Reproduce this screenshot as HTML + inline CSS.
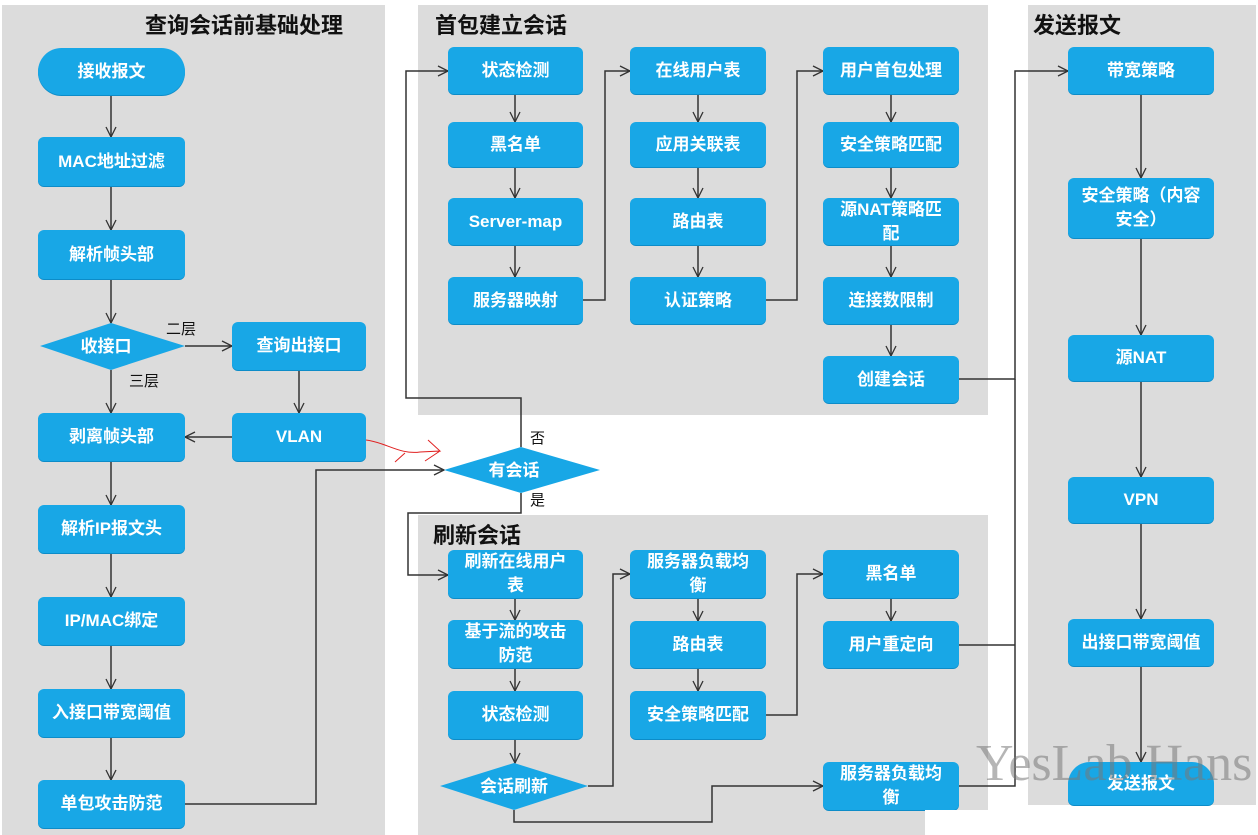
<!DOCTYPE html>
<html><head><meta charset="utf-8"><style>
body{margin:0;width:1258px;height:835px;background:#fff;position:relative;overflow:hidden;font-family:"Liberation Sans","Noto Sans CJK SC",sans-serif}
.p{position:absolute;background:#dcdcdc}
.t{position:absolute;font-size:22px;font-weight:bold;color:#111}
.b{position:absolute;background:#18a7e6;color:#fff;font-weight:bold;font-size:17px;display:flex;align-items:center;justify-content:center;text-align:center;line-height:24px;border-radius:6px;box-shadow:0 1px 0 #0d8cc8}
.l{position:absolute;font-size:15px;color:#111}
svg{position:absolute;left:0;top:0}
</style></head><body>
<div class="p" style="left:2px;top:5px;width:383px;height:830px"></div>
<div class="p" style="left:418px;top:5px;width:570px;height:410px"></div>
<div class="p" style="left:418px;top:515px;width:570px;height:320px"></div>
<div class="p" style="left:1028px;top:5px;width:228px;height:800px"></div>
<div class="t" style="left:145px;top:8px">查询会话前基础处理</div>
<div class="t" style="left:435px;top:8px">首包建立会话</div>
<div class="t" style="left:1033px;top:8px">发送报文</div>
<div class="t" style="left:433px;top:518px">刷新会话</div>

<svg width="1258" height="835">
<defs><marker id="a" markerWidth="12" markerHeight="12" refX="11" refY="6" orient="auto" markerUnits="userSpaceOnUse"><path d="M1,1 L11,6 L1,11" fill="none" stroke="#333" stroke-width="1.3"/></marker></defs>
<g fill="none" stroke="#333" stroke-width="1.5">
<path d="M111,95V137" marker-end="url(#a)"/><path d="M111,186V230" marker-end="url(#a)"/><path d="M111,279V323" marker-end="url(#a)"/>
<path d="M111,370V413" marker-end="url(#a)"/><path d="M111,461V505" marker-end="url(#a)"/><path d="M111,553V597" marker-end="url(#a)"/>
<path d="M111,645V689" marker-end="url(#a)"/><path d="M111,737V780" marker-end="url(#a)"/>
<path d="M185,346H232" marker-end="url(#a)"/><path d="M299,370V413" marker-end="url(#a)"/><path d="M232,437H185" marker-end="url(#a)"/>
<path d="M185,804H316V470H444" marker-end="url(#a)"/>
<path d="M521,447V398H406V71H448" marker-end="url(#a)"/>
<path d="M521,493V513H408V575H448" marker-end="url(#a)"/>
<path d="M515,94V122" marker-end="url(#a)"/><path d="M515,167V198" marker-end="url(#a)"/><path d="M515,245V277" marker-end="url(#a)"/>
<path d="M583,300H605V71H630" marker-end="url(#a)"/>
<path d="M698,94V122" marker-end="url(#a)"/><path d="M698,167V198" marker-end="url(#a)"/><path d="M698,245V277" marker-end="url(#a)"/>
<path d="M766,300H797V71H823" marker-end="url(#a)"/>
<path d="M891,94V122" marker-end="url(#a)"/><path d="M891,167V198" marker-end="url(#a)"/><path d="M891,245V277" marker-end="url(#a)"/><path d="M891,324V356" marker-end="url(#a)"/>
<path d="M959,379H1015V71H1068" marker-end="url(#a)"/>
<path d="M959,645H1015"/><path d="M959,786H1015V379"/>
<path d="M1141,94V178" marker-end="url(#a)"/><path d="M1141,238V335" marker-end="url(#a)"/><path d="M1141,381V477" marker-end="url(#a)"/>
<path d="M1141,523V619" marker-end="url(#a)"/><path d="M1141,666V762" marker-end="url(#a)"/>
<path d="M515,598V620" marker-end="url(#a)"/><path d="M515,668V691" marker-end="url(#a)"/><path d="M515,739V763" marker-end="url(#a)"/>
<path d="M588,786H613V574H630" marker-end="url(#a)"/>
<path d="M698,598V621" marker-end="url(#a)"/><path d="M698,668V691" marker-end="url(#a)"/>
<path d="M766,715H797V574H823" marker-end="url(#a)"/>
<path d="M891,598V621" marker-end="url(#a)"/>
<path d="M514,810V822H712V786H823" marker-end="url(#a)"/>
</g>
<path d="M366,440 C385,442 400,455 420,452 L440,451 L428,440 M440,451 L425,461 M405,453 L395,462" fill="none" stroke="#e02020" stroke-width="1"/>
<polygon points="40,346 111,323 185,346 111,370" fill="#18a7e6"/>
<polygon points="444,470 521,447 600,470 521,493" fill="#18a7e6"/>
<polygon points="440,786 514,763 588,786 514,810" fill="#18a7e6"/>
<g fill="#fff" font-weight="bold" font-size="17" text-anchor="middle" font-family="Liberation Sans,Noto Sans CJK SC,sans-serif">
<text x="106" y="352">收接口</text><text x="514" y="476">有会话</text><text x="514" y="792">会话刷新</text></g>
</svg>
<div class="l" style="left:166px;top:318px">二层</div>
<div class="l" style="left:129px;top:370px">三层</div>
<div class="l" style="left:530px;top:427px">否</div>
<div class="l" style="left:530px;top:489px">是</div>

<div class="b" style="left:38px;top:48px;width:147px;height:47px;border-radius:24px">接收报文</div>
<div class="b" style="left:38px;top:137px;width:147px;height:49px">MAC地址过滤</div>
<div class="b" style="left:38px;top:230px;width:147px;height:49px">解析帧头部</div>
<div class="b" style="left:232px;top:322px;width:134px;height:48px">查询出接口</div>
<div class="b" style="left:232px;top:413px;width:134px;height:48px">VLAN</div>
<div class="b" style="left:38px;top:413px;width:147px;height:48px">剥离帧头部</div>
<div class="b" style="left:38px;top:505px;width:147px;height:48px">解析IP报文头</div>
<div class="b" style="left:38px;top:597px;width:147px;height:48px">IP/MAC绑定</div>
<div class="b" style="left:38px;top:689px;width:147px;height:48px">入接口带宽阈值</div>
<div class="b" style="left:38px;top:780px;width:147px;height:48px">单包攻击防范</div>

<div class="b" style="left:448px;top:47px;width:135px;height:47px">状态检测</div>
<div class="b" style="left:448px;top:122px;width:135px;height:45px">黑名单</div>
<div class="b" style="left:448px;top:198px;width:135px;height:47px">Server-map</div>
<div class="b" style="left:448px;top:277px;width:135px;height:47px">服务器映射</div>
<div class="b" style="left:630px;top:47px;width:136px;height:47px">在线用户表</div>
<div class="b" style="left:630px;top:122px;width:136px;height:45px">应用关联表</div>
<div class="b" style="left:630px;top:198px;width:136px;height:47px">路由表</div>
<div class="b" style="left:630px;top:277px;width:136px;height:47px">认证策略</div>
<div class="b" style="left:823px;top:47px;width:136px;height:47px">用户首包处理</div>
<div class="b" style="left:823px;top:122px;width:136px;height:45px">安全策略匹配</div>
<div class="b" style="left:823px;top:198px;width:136px;height:47px">源NAT策略匹<br>配</div>
<div class="b" style="left:823px;top:277px;width:136px;height:47px">连接数限制</div>
<div class="b" style="left:823px;top:356px;width:136px;height:47px">创建会话</div>

<div class="b" style="left:1068px;top:47px;width:146px;height:47px">带宽策略</div>
<div class="b" style="left:1068px;top:178px;width:146px;height:60px">安全策略（内容<br>安全）</div>
<div class="b" style="left:1068px;top:335px;width:146px;height:46px">源NAT</div>
<div class="b" style="left:1068px;top:477px;width:146px;height:46px">VPN</div>
<div class="b" style="left:1068px;top:619px;width:146px;height:47px">出接口带宽阈值</div>
<div class="b" style="left:1068px;top:762px;width:146px;height:43px;border-radius:22px 22px 6px 6px">发送报文</div>

<div class="b" style="left:448px;top:550px;width:135px;height:48px">刷新在线用户<br>表</div>
<div class="b" style="left:448px;top:620px;width:135px;height:48px">基于流的攻击<br>防范</div>
<div class="b" style="left:448px;top:691px;width:135px;height:48px">状态检测</div>
<div class="b" style="left:630px;top:550px;width:136px;height:48px">服务器负载均<br>衡</div>
<div class="b" style="left:630px;top:621px;width:136px;height:47px">路由表</div>
<div class="b" style="left:630px;top:691px;width:136px;height:48px">安全策略匹配</div>
<div class="b" style="left:823px;top:550px;width:136px;height:48px">黑名单</div>
<div class="b" style="left:823px;top:621px;width:136px;height:47px">用户重定向</div>
<div class="b" style="left:823px;top:762px;width:136px;height:48px">服务器负载均<br>衡</div>
<div style="position:absolute;left:925px;top:810px;width:333px;height:25px;background:#fff"></div>
<div style="position:absolute;left:976px;top:734px;font-family:'Liberation Serif',serif;font-size:52px;color:rgba(120,120,120,0.55);white-space:nowrap">YesLab Hans</div>
</body></html>
